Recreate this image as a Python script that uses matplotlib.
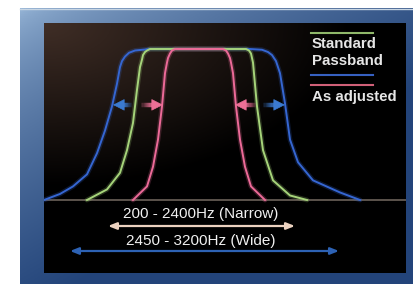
import matplotlib.pyplot as plt
from matplotlib.collections import LineCollection
import numpy as np

# passband outlines: x position in the panel, level 0..1
blue_x = [0, 16, 29, 43, 53, 61, 68, 73, 76, 78, 81, 85, 91, 106, 206, 218, 224, 228, 232, 234, 236, 241, 246, 254, 269, 296, 316]
blue_y = [0.0, 0.04, 0.09, 0.17, 0.31, 0.46, 0.62, 0.77, 0.88, 0.92, 0.95, 0.975, 0.99, 1.0, 1.0, 0.995, 0.98, 0.96, 0.92, 0.88, 0.84, 0.64, 0.40, 0.25, 0.13, 0.05, 0.0]
green_x = [43, 63, 76, 83, 89, 93, 96, 98, 99, 101, 103, 106, 202, 205, 207, 208, 209, 213, 219, 229, 246, 263]
green_y = [0.0, 0.07, 0.18, 0.33, 0.51, 0.73, 0.88, 0.93, 0.96, 0.98, 0.99, 1.0, 1.0, 0.99, 0.97, 0.94, 0.91, 0.62, 0.33, 0.13, 0.03, 0.0]
pink_x = [89, 103, 109, 114, 118, 121, 123, 124, 126, 128, 131, 179, 182, 184, 186, 187, 189, 192, 196, 201, 207, 221]
pink_y = [0.0, 0.09, 0.22, 0.40, 0.62, 0.84, 0.91, 0.94, 0.97, 0.99, 1.0, 1.0, 0.99, 0.97, 0.94, 0.91, 0.84, 0.62, 0.40, 0.22, 0.09, 0.0]

# shift arrows: (tail, tip) in panel x units
arrow_tail = [89, 96, 213, 218]
arrow_tip = [69, 119, 191, 241]

legend_labels = ['Standard', 'Passband', 'As adjusted']
range_labels = ['200 - 2400Hz (Narrow)', '2450 - 3200Hz (Wide)']

BLUE = '#3566d2'
GREEN = '#a6d47a'
PINK = '#ec6a98'
ARROW_COLS = ['#3b7ad0', '#ec6f96', '#ec6f96', '#3b7ad0']

plt.rcParams['font.family'] = ['Liberation Sans', 'DejaVu Sans']

fig = plt.figure(figsize=(4.13, 2.84), dpi=100)
fig.patch.set_facecolor('white')

# background layer in pixel coordinates
bg = fig.add_axes([0, 0, 1, 1])
bg.set_xlim(0, 413)
bg.set_ylim(284, 0)
bg.axis('off')

# blue frame, light top-left to dark bottom-right
gx, gy = np.meshgrid(np.linspace(0, 1, 200), np.linspace(0, 1, 140))
t = np.clip(0.75 * gx + 0.9 * gy, 0, 1) ** 0.6
c0 = np.array([0.60, 0.72, 0.85])
c1 = np.array([0.14, 0.27, 0.48])
frame = c0[None, None, :] * (1 - t[..., None]) + c1[None, None, :] * t[..., None]
bg.imshow(frame, extent=(20, 413, 284, 8), aspect='auto', zorder=0)
bg.plot([20, 413], [8.5, 8.5], color='#c8d6e4', lw=1, zorder=1)

# dark panel with a brownish glow top-left
t2 = np.clip(np.sqrt(gx ** 2 + (gy * 1.3) ** 2), 0, 1)
t2 = np.clip(t2 / 0.85, 0, 1)
d0 = np.array([0.25, 0.18, 0.15])
panel = d0[None, None, :] * (1 - t2[..., None])
bg.imshow(panel, extent=(44, 406, 273, 23), aspect='auto', zorder=2)

# chart axes over the dark panel
ax = fig.add_axes([44 / 413, (284 - 273) / 284, (406 - 44) / 413, (273 - 23) / 284])
ax.set_xlim(0, 362)
ax.set_ylim(-73 / 151, 177 / 151)
ax.axis('off')
ax.patch.set_alpha(0)

ax.axhline(0, color='#6b625a', lw=1.2, zorder=1)
for xs, ys, col in [(blue_x, blue_y, BLUE), (green_x, green_y, GREEN), (pink_x, pink_y, PINK)]:
    ax.plot(xs, ys, color=col, lw=3.5, alpha=0.22, solid_capstyle='round', zorder=2)
    ax.plot(xs, ys, color=col, lw=1.4, solid_joinstyle='round', zorder=3)

# adjustment arrows, shaft fading out towards the tail
lvl = 0.63
head = 10
for x0, x1, col in zip(arrow_tail, arrow_tip, ARROW_COLS):
    d = np.sign(x1 - x0)
    base = x1 - d * head
    xs = np.linspace(x0, base + d * 1, 13)
    segs = [[(xs[i], lvl), (xs[i + 1], lvl)] for i in range(len(xs) - 1)]
    alphas = np.linspace(0.0, 1.0, len(segs)) ** 0.8
    lc = LineCollection(segs, colors=[(*plt.matplotlib.colors.to_rgb(col), a) for a in alphas],
                        linewidths=3.2, capstyle='butt', zorder=4)
    ax.add_collection(lc)
    ax.annotate('', xy=(x1, lvl), xytext=(base, lvl),
                arrowprops=dict(arrowstyle='-|>,head_length=0.75,head_width=0.38', color=col, lw=0.5,
                                shrinkA=0, shrinkB=0), zorder=5)

# legend
bg.plot([311, 373], [33, 33], color='#8fb86a', lw=1.5, zorder=5)
bg.text(312, 48, legend_labels[0], color='#e6e6e6', fontsize=10.8, fontweight='bold',
        va='baseline', ha='left', zorder=5)
bg.text(312, 65, legend_labels[1], color='#e6e6e6', fontsize=10.8, fontweight='bold',
        va='baseline', ha='left', zorder=5)
bg.plot([311, 373], [75, 75], color='#3660c0', lw=1.5, zorder=5)
bg.plot([311, 373], [85, 85], color='#d06078', lw=1.5, zorder=5)
bg.text(312, 101, legend_labels[2], color='#e6e6e6', fontsize=10.8, fontweight='bold',
        va='baseline', ha='left', zorder=5)

# bandwidth ranges
bg.text(201, 218, range_labels[0], color='#f0f0f0', fontsize=11, ha='center', va='baseline', zorder=5)
bg.annotate('', xy=(295, 226), xytext=(108, 226),
            arrowprops=dict(arrowstyle='<|-|>,head_length=0.5,head_width=0.2', color='#ecd2c0', lw=1.6,
                            shrinkA=0, shrinkB=0), zorder=5)
bg.text(201, 245, range_labels[1], color='#f0f0f0', fontsize=11, ha='center', va='baseline', zorder=5)
bg.annotate('', xy=(339, 251), xytext=(70, 251),
            arrowprops=dict(arrowstyle='<|-|>,head_length=0.5,head_width=0.2', color='#2d62b4', lw=1.6,
                            shrinkA=0, shrinkB=0), zorder=5)

fig.savefig('out.png', dpi=100, facecolor='white')
